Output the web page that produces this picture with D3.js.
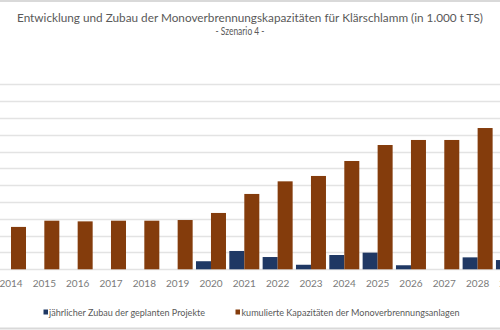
<!DOCTYPE html>
<html>
<head>
<meta charset="utf-8">
<script src="https://cdn.jsdelivr.net/npm/d3@7"></script>
<style>
  html, body { margin: 0; padding: 0; background: #fff; }
  svg { display: block; }
</style>
</head>
<body>
<svg id="chart" width="500" height="330"></svg>
<script>
// ---- data (in 1.000 t TS) ----
const years = ["2014","2015","2016","2017","2018","2019","2020","2021","2022","2023","2024","2025","2026","2027","2028","2029"];
const annualAdditions = [0, 0, 0, 0, 0, 0, 48, 109, 73, 27, 85, 99, 24, 0, 71, 55];
const cumulativeCapacity = [252, 289, 285, 289, 289, 293, 335, 448, 523, 555, 644, 739, 769, 769, 840, 895];
const gridTicks = [0, 100, 200, 300, 400, 500, 600, 700, 800, 900, 1000, 1100];
const seriesNames = ["jährlicher Zubau der geplanten Projekte", "kumulierte Kapazitäten der Monoverbrennungsanlagen"];
const titleLines = ["Entwicklung und Zubau der Monoverbrennungskapazitäten für Klärschlamm (in 1.000 t TS)", "- Szenario 4 -"];

const colors = ["#1f3864", "#843c0c"];
const svg = d3.select("#chart");
const W = 500, H = 330;
const font = "Lato, 'Open Sans', sans-serif";

// frame lines
svg.append("line").attr("x1", 0).attr("x2", W).attr("y1", 1).attr("y2", 1)
  .attr("stroke", "#d9d9d9").attr("stroke-width", 2);
svg.append("line").attr("x1", 0).attr("x2", W).attr("y1", 328.5).attr("y2", 328.5)
  .attr("stroke", "#d9d9d9").attr("stroke-width", 2);

// scales
const step = 33.33;
const x0 = d3.scaleBand().domain(years)
  .range([11 - step / 2, 11 - step / 2 + step * years.length]).padding(0);
const x1 = d3.scaleBand().domain([0, 1]).range([0, x0.bandwidth()])
  .paddingInner(0).paddingOuter(0.111);
const y = d3.scaleLinear().domain([0, 1100]).range([269.3, 84.3]);

// gridlines
svg.append("g").selectAll("line").data(gridTicks).join("line")
  .attr("x1", 0).attr("x2", W)
  .attr("y1", d => Math.round(y(d)) + 0.5).attr("y2", d => Math.round(y(d)) + 0.5)
  .attr("stroke", "#e3e3e3").attr("stroke-width", 1.3);

// bars
const series = [annualAdditions, cumulativeCapacity];
series.forEach((vals, si) => {
  svg.append("g").selectAll("rect").data(vals.map((v, i) => ({ v, year: years[i] })))
    .join("rect")
    .attr("x", d => x0(d.year) + x1(si))
    .attr("width", x1.bandwidth())
    .attr("y", d => y(d.v))
    .attr("height", d => y(0) - y(d.v))
    .attr("fill", colors[si]);
});

// x axis labels
const xAxis = d3.axisBottom(x0).tickSize(0).tickPadding(0);
const gx = svg.append("g").attr("transform", `translate(0, ${y(0)})`).call(xAxis);
gx.select(".domain").remove();
gx.selectAll("text")
  .attr("y", 0).attr("dy", 0)
  .attr("transform", "translate(0, 18)")
  .attr("font-family", font).attr("font-size", 10)
  .attr("fill", "#7a7a7a");

// title
svg.append("text").attr("x", 250).attr("y", 22).attr("text-anchor", "middle")
  .attr("font-family", font).attr("font-size", 11.5).attr("fill", "#595959")
  .attr("textLength", 466).attr("lengthAdjust", "spacingAndGlyphs")
  .text(titleLines[0]);
svg.append("text").attr("x", 240).attr("y", 35).attr("text-anchor", "middle")
  .attr("font-family", font).attr("font-size", 10.5).attr("fill", "#595959")
  .attr("textLength", 49).attr("lengthAdjust", "spacingAndGlyphs")
  .text(titleLines[1]);

// legend
const legendItems = [
  { sx: 43.5, tx: 49, tw: 156 },
  { sx: 235.5, tx: 241.5, tw: 218 }
];
legendItems.forEach((it, i) => {
  svg.append("rect").attr("x", it.sx).attr("y", 309.5).attr("width", 4.5).attr("height", 5)
    .attr("fill", colors[i]);
  svg.append("text").attr("x", it.tx).attr("y", 316)
    .attr("font-family", font).attr("font-size", 10).attr("fill", "#595959")
    .attr("textLength", it.tw).attr("lengthAdjust", "spacingAndGlyphs")
    .text(seriesNames[i]);
});
</script>
</body>
</html>
